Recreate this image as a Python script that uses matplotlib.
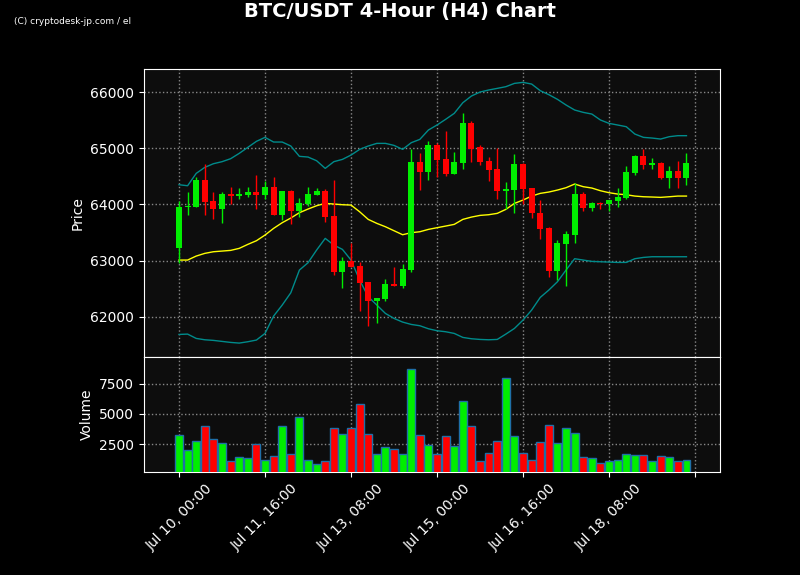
import numpy as np
import pandas as pd
import matplotlib
matplotlib.use('Agg')
from matplotlib import pyplot as plt

# candles, 4h, from Jul 10 00:00
opens = [63228, 63947, 63958, 64433, 64059, 63923, 64184, 64154, 64166, 64220,
         64166, 64309, 63810, 64237, 63881, 64006, 64166, 64237, 63798, 62801,
         62991, 62902, 62617, 62285, 62315, 62582, 62546, 62831, 64754, 64582,
         65056, 64807, 64546, 64742, 65448, 65015, 64772, 64629, 64243, 64261,
         64718, 64291, 63846, 63585, 62819, 63300, 63460, 64184, 63941, 64024,
         64006, 64059, 64119, 64558, 64861, 64700, 64736, 64475, 64594, 64475]
closes = [63953, 63976, 64433, 64047, 63923, 64184, 64154, 64184, 64220, 64166,
          64309, 63810, 64237, 63881, 64024, 64184, 64237, 63780, 62801, 62991,
          62884, 62605, 62285, 62332, 62582, 62546, 62849, 64754, 64582, 65056,
          64795, 64546, 64754, 65448, 64991, 64760, 64617, 64243, 64273, 64718,
          64273, 63840, 63561, 62819, 63312, 63472, 64184, 63941, 64024, 64006,
          64077, 64131, 64576, 64861, 64700, 64736, 64475, 64594, 64475, 64736]
highs = [64065, 64214, 64493, 64712, 64225, 64225, 64315, 64285, 64303, 64516,
         64415, 64480, 64237, 64255, 64107, 64303, 64291, 64267, 64427, 63068,
         63306, 62979, 62617, 62332, 62665, 62878, 62938, 64979, 64908, 65128,
         65086, 65306, 64926, 65620, 65478, 65062, 64849, 65009, 64392, 64902,
         64740, 64291, 64071, 63596, 63365, 63519, 64386, 64225, 64042, 64042,
         64077, 64285, 64682, 64878, 64979, 64825, 64755, 64682, 64772, 64914]
lows = [62950, 63804, 63958, 63804, 63733, 63662, 64000, 64089, 64136, 63911,
        64089, 63810, 63715, 63644, 63769, 63970, 64166, 63680, 62742, 62504,
        62884, 62101, 61834, 61881, 62285, 62546, 62504, 62789, 64255, 64433,
        64493, 64504, 64546, 64629, 64754, 64694, 64415, 64089, 63917, 63840,
        64000, 63751, 63377, 62712, 62653, 62540, 63317, 63887, 63887, 63923,
        63887, 63958, 64101, 64522, 64623, 64623, 64457, 64297, 64285, 64350]
volumes = [3226, 2016, 2742, 3979, 2903, 2581, 1128, 1451, 1370, 2500,
           1209, 1558, 4033, 1720, 4760, 1209, 886, 1128, 3872, 3307,
           3818, 5809, 3307, 1693, 2258, 2097, 1693, 8714, 3226, 2446,
           1720, 3172, 2365, 6078, 3979, 1128, 1774, 2742, 7988, 3172,
           1774, 1209, 2661, 4114, 2581, 3872, 3388, 1451, 1370, 967,
           1128, 1209, 1693, 1612, 1612, 1128, 1532, 1451, 1128, 1209]

# bollinger bands as drawn
bb_upper = [64350, 64332, 64552, 64659, 64724, 64760, 64813, 64908, 65015, 65122,
            65193, 65110, 65110, 65039, 64855, 64843, 64777, 64641, 64760, 64801,
            64878, 64979, 65039, 65086, 65086, 65050, 64979, 65098, 65157, 65324,
            65413, 65514, 65620, 65810, 65929, 66000, 66036, 66065, 66095, 66154,
            66172, 66142, 66024, 65953, 65870, 65769, 65680, 65638, 65608, 65502,
            65442, 65413, 65383, 65252, 65193, 65181, 65163, 65205, 65223, 65223]
bb_mid = [63009, 63009, 63080, 63128, 63157, 63169, 63181, 63217, 63288, 63353,
          63454, 63573, 63674, 63757, 63852, 63917, 63976, 64018, 64006, 63994,
          63988, 63869, 63733, 63662, 63602, 63531, 63460, 63496, 63513, 63555,
          63585, 63614, 63644, 63733, 63774, 63804, 63816, 63840, 63911, 64018,
          64077, 64148, 64196, 64220, 64255, 64297, 64362, 64315, 64291, 64243,
          64208, 64184, 64172, 64148, 64136, 64131, 64125, 64136, 64148, 64148]
bb_lower = [61685, 61691, 61614, 61590, 61579, 61561, 61543, 61531, 61555, 61585,
            61703, 62012, 62208, 62427, 62831, 62961, 63187, 63395, 63276, 63199,
            63009, 62653, 62356, 62208, 62059, 61970, 61905, 61863, 61840, 61786,
            61751, 61733, 61703, 61632, 61608, 61596, 61590, 61596, 61691, 61792,
            61941, 62119, 62344, 62475, 62623, 62831, 63033, 63009, 62985, 62979,
            62973, 62967, 62967, 63033, 63056, 63068, 63068, 63068, 63068, 63068]

dates = pd.date_range('2024-07-10 00:00', periods=len(opens), freq='4h')

GREEN = '#00ee00'
RED = '#ff0000'

fig = plt.figure(figsize=(8, 5.75), dpi=100, facecolor='black')
ax = fig.add_axes([0.18, 0.379, 0.72, 0.501])
axv = fig.add_axes([0.18, 0.179, 0.72, 0.2], sharex=ax)

x = np.arange(len(opens))
o = np.array(opens)
c = np.array(closes)
up = c >= o
colors = [GREEN if u else RED for u in up]

ax.vlines(x, lows, highs, colors=colors, linewidth=1, zorder=3)
ax.bar(x, np.abs(c - o), bottom=np.minimum(o, c), width=0.7, color=colors, zorder=4)
ax.plot(x, bb_upper, color='#008b8b', linewidth=1, zorder=2)
ax.plot(x, bb_lower, color='#008b8b', linewidth=1, zorder=2)
ax.plot(x, bb_mid, color='#ffff00', linewidth=1, zorder=2)

axv.bar(x, volumes, width=0.92, color=colors, edgecolor='#1f6fa8', linewidth=1, zorder=3)

for a in (ax, axv):
    a.set_facecolor('#0d0d0d')
    for s in a.spines.values():
        s.set_color('white')
    a.tick_params(colors='white', labelsize=10)
    a.grid(True, color='#888888', linestyle=':', linewidth=1)
    a.set_axisbelow(True)

ax.set_xlim(-4.07, 62.9)
ax.set_ylim(61282, 66410)
ax.set_yticks([62000, 63000, 64000, 65000, 66000])
ax.set_ylabel('Price', color='white', fontsize=10)
plt.setp(ax.get_xticklabels(), visible=False)

axv.set_ylim(200, 9700)
axv.set_yticks([2500, 5000, 7500])
axv.set_ylabel('Volume', color='white', fontsize=10)
ticks = list(range(0, 61, 10))
axv.set_xticks(ticks)
axv.set_xticklabels([dates[t].strftime('%b %d, %H:%M') if t < len(dates) else '' for t in ticks],
                    rotation=45)

fig.text(0.5, 0.98, 'BTC/USDT 4-Hour (H4) Chart', color='white', fontsize=14,
         fontweight='bold', ha='center', va='center')
fig.text(0.018, 0.962, '(C) cryptodesk-jp.com / el', color='white', fontsize=6.5,
         family=['Liberation Sans Narrow', 'DejaVu Sans'], ha='left', va='center')

fig.savefig('out.png', dpi=100, facecolor='black')
